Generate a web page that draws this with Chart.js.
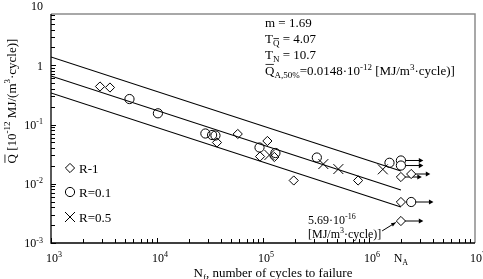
<!DOCTYPE html>
<html><head><meta charset="utf-8">
<script src="https://cdn.jsdelivr.net/npm/chart.js@4/dist/chart.umd.min.js"></script>
<style>html,body{margin:0;padding:0;background:#fff;}canvas{display:block;}</style>
</head><body>
<canvas id="c" width="483" height="279"></canvas>
<script>
// ---- axis ticks ----
const xTickValues = [1e3, 1e4, 1e5, 1e6, 1e7];
const xTickExponents = ['3', '4', '5', '6', '7'];
const yTickValues = [1e-3, 1e-2, 1e-1, 1, 10];
const yTickBases = ['10', '10', '10', '1', '10'];
const yTickExponents = ['-3', '-2', '-1', '', ''];
const naCycles = 2e6;           // N_A label position
const xMin = 1e3, xMax = 1e7, yMin = 1e-3, yMax = 7.33;

// ---- scatter band lines (50%, 10%, 90%) ----
const lineCycles = [1e3, 2e6];
const upperQ = [1.377, 0.0164];
const medianQ = [0.659, 0.00785];
const lowerQ = [0.340, 0.00406];

// ---- R-1 (diamonds) ----
const r1Cycles = [2900, 3600, 36800, 57800, 110000, 93800, 128000, 195000, 789000];
const r1Q = [0.438, 0.421, 0.0497, 0.0692, 0.0527, 0.0288, 0.0283, 0.01135, 0.01135];
const r1RunoutCycles = [2.0e6, 2.5e6, 2.0e6, 2.0e6];
const r1RunoutQ = [0.0130, 0.0146, 0.00492, 0.00235];
const r1RunoutArrowEnd = [2.95e6, 3.55e6, null, 3.05e6];

// ---- R=0.1 (circles) ----
const r01Cycles = [5500, 10200, 28600, 33100, 35600, 92700, 131000, 322000, 1.56e6];
const r01Q = [0.269, 0.1545, 0.0705, 0.0665, 0.0652, 0.0409, 0.0330, 0.0277, 0.0226];
const r01RunoutCycles = [2.0e6, 2.0e6, 2.5e6];
const r01RunoutQ = [0.0247, 0.0203, 0.00492];
const r01RunoutArrowEnd = [3.05e6, 3.05e6, 3.8e6];

// ---- R=0.5 (crosses) ----
const r05Cycles = [115000, 371000, 514000, 1.35e6];
const r05Q = [0.0306, 0.0215, 0.0177, 0.0175];

// ---- callout arrow to lowest run-out ----
const calloutCycles = [1.33e6, 1.79e6];
const calloutQ = [0.00160, 0.00222];

const pts = (xs, ys) => xs.map((x, i) => ({x, y: ys[i]}));
const FONT = '"Liberation Serif", "Times New Roman", serif';

const datasets = [];
// markers (on top)
datasets.push({data: pts(r1Cycles, r1Q), pointStyle: 'rectRot', pointRadius: 4.6, borderColor: '#000', backgroundColor: 'rgba(0,0,0,0)', borderWidth: 1, order: 0});
datasets.push({data: pts(r01Cycles, r01Q), pointStyle: 'circle', pointRadius: 4.6, borderColor: '#000', backgroundColor: 'rgba(0,0,0,0)', borderWidth: 1, order: 0});
datasets.push({data: pts(r05Cycles, r05Q), pointStyle: 'crossRot', pointRadius: 7, borderColor: '#000', backgroundColor: 'rgba(0,0,0,0)', borderWidth: 1, order: 0});
datasets.push({data: pts(r1RunoutCycles, r1RunoutQ), pointStyle: 'rectRot', pointRadius: 4.6, borderColor: '#000', backgroundColor: '#fff', borderWidth: 1, order: 0});
datasets.push({data: pts(r01RunoutCycles, r01RunoutQ), pointStyle: 'circle', pointRadius: 4.6, borderColor: '#000', backgroundColor: '#fff', borderWidth: 1, order: 0});
// run-out arrows
function addArrows(cyc, q, ends) {
  cyc.forEach((c, i) => {
    if (ends[i] == null) return;
    datasets.push({data: [{x: c, y: q[i]}, {x: ends[i], y: q[i]}], showLine: true, borderColor: '#000', borderWidth: 1,
      pointRadius: [0, 3], pointStyle: 'triangle', rotation: 90, pointBackgroundColor: '#000', pointBorderColor: '#000', pointBorderWidth: 0, order: 2});
  });
}
addArrows(r1RunoutCycles, r1RunoutQ, r1RunoutArrowEnd);
addArrows(r01RunoutCycles, r01RunoutQ, r01RunoutArrowEnd);
// band lines
[upperQ, medianQ, lowerQ].forEach(q => datasets.push({data: pts(lineCycles, q), showLine: true, pointRadius: 0, borderColor: '#000', borderWidth: 1.1, order: 3}));

function drawRich(ctx, parts, x, y, align, base) {
  const sm = Math.round(base * 0.68);
  let w = 0;
  const ms = parts.map(p => {
    const s = p.k ? sm : base;
    ctx.font = s + 'px ' + FONT;
    const mw = ctx.measureText(p.t).width;
    w += mw;
    return {p, s, mw};
  });
  let cx = align === 'center' ? x - w / 2 : align === 'right' ? x - w : x;
  ctx.textAlign = 'left';
  ctx.textBaseline = 'alphabetic';
  ms.forEach(({p, s, mw}) => {
    ctx.font = s + 'px ' + FONT;
    const dy = p.k === 'sup' ? -base * 0.4 : p.k === 'sub' ? base * 0.25 : 0;
    ctx.fillText(p.t, cx, y + dy);
    if (p.over) {
      const top = y + dy - s * 0.72 - 1.2;
      ctx.beginPath();
      ctx.moveTo(cx + 0.5, top);
      ctx.lineTo(cx + mw - 0.5, top);
      ctx.lineWidth = 0.8;
      ctx.stroke();
    }
    cx += mw;
  });
  return w;
}

const decor = {
  id: 'decor',
  afterDatasetsDraw(chart) {
    const {ctx, chartArea: a, scales: {x, y}} = chart;
    ctx.save();
    ctx.fillStyle = '#000';
    ctx.strokeStyle = '#000';
    // frame
    ctx.lineWidth = 1.5;
    ctx.strokeStyle = '#8c8c8c';
    ctx.beginPath();
    ctx.moveTo(a.left, a.top); ctx.lineTo(a.right, a.top); ctx.lineTo(a.right, a.bottom);
    ctx.stroke();
    ctx.strokeStyle = '#000';
    ctx.lineWidth = 1.3;
    ctx.beginPath();
    ctx.moveTo(a.left, a.top); ctx.lineTo(a.left, a.bottom); ctx.lineTo(a.right, a.bottom);
    ctx.stroke();
    // ticks
    ctx.lineWidth = 1;
    ctx.beginPath();
    for (let d = Math.log10(xMin); d < Math.log10(xMax); d++) {
      for (let k = 1; k <= 9; k++) {
        const px = Math.round(x.getPixelForValue(k * Math.pow(10, d))) + 0.5;
        ctx.moveTo(px, a.bottom); ctx.lineTo(px, a.bottom - (k === 1 ? 5 : 4));
      }
    }
    for (let d = Math.log10(yMin); d < 1; d++) {
      for (let k = 1; k <= 9; k++) {
        const v = k * Math.pow(10, d);
        if (v > yMax) continue;
        const py = Math.round(y.getPixelForValue(v)) + 0.5;
        ctx.moveTo(a.left, py); ctx.lineTo(a.left + (k === 1 ? 5 : 4), py);
      }
    }
    ctx.stroke();
    // x tick labels
    xTickValues.forEach((v, i) => {
      const px = x.getPixelForValue(v);
      drawRich(ctx, [{t: '10'}, {t: xTickExponents[i], k: 'sup'}], Math.min(px + 3, 478), 262, 'center', 12);
    });
    drawRich(ctx, [{t: 'N'}, {t: 'A', k: 'sub'}], x.getPixelForValue(naCycles), 262, 'center', 12);
    // y tick labels
    yTickValues.forEach((v, i) => {
      const py = y.getPixelForValue(v);
      const parts = [{t: yTickBases[i]}];
      if (yTickExponents[i]) parts.push({t: yTickExponents[i], k: 'sup'});
      drawRich(ctx, parts, 43, py + 4.3, 'right', 12);
    });
    // axis titles
    drawRich(ctx, [{t: 'N'}, {t: 'f', k: 'sub'}, {t: ', number of cycles to failure'}], 273, 277, 'center', 13);
    ctx.save();
    ctx.translate(11, 101);
    ctx.rotate(-Math.PI / 2);
    drawRich(ctx, [{t: 'Q', over: true}, {t: ' [10'}, {t: '-12', k: 'sup'}, {t: ' MJ/(m'}, {t: '3', k: 'sup'}, {t: '·cycle)]'}], 0, 4.5, 'center', 13);
    ctx.restore();
    // annotation block
    const ax = 265;
    drawRich(ctx, [{t: 'm = 1.69'}], ax, 27, 'left', 13);
    drawRich(ctx, [{t: 'T'}, {t: 'Q', k: 'sub', over: true}, {t: ' = 4.07'}], ax, 43, 'left', 13);
    drawRich(ctx, [{t: 'T'}, {t: 'N', k: 'sub'}, {t: ' = 10.7'}], ax, 59, 'left', 13);
    drawRich(ctx, [{t: 'Q', over: true}, {t: 'A,50%', k: 'sub'}, {t: '=0.0148·10'}, {t: '-12', k: 'sup'}, {t: ' [MJ/m'}, {t: '3', k: 'sup'}, {t: '·cycle)]'}], ax, 75, 'left', 13);
    // legend
    const lx = 70, ly = [168, 192, 217];
    ctx.lineWidth = 1;
    ctx.beginPath();
    ctx.moveTo(lx, ly[0] - 4.6); ctx.lineTo(lx + 4.6, ly[0]); ctx.lineTo(lx, ly[0] + 4.6); ctx.lineTo(lx - 4.6, ly[0]); ctx.closePath();
    ctx.stroke();
    ctx.beginPath(); ctx.arc(lx, ly[1], 4.6, 0, Math.PI * 2); ctx.stroke();
    ctx.beginPath();
    ctx.moveTo(lx - 5, ly[2] - 5); ctx.lineTo(lx + 5, ly[2] + 5);
    ctx.moveTo(lx + 5, ly[2] - 5); ctx.lineTo(lx - 5, ly[2] + 5);
    ctx.stroke();
    ['R-1', 'R=0.1', 'R=0.5'].forEach((t, i) => drawRich(ctx, [{t}], lx + 9, ly[i] + 4.5, 'left', 13));
    // callout
    const c0x = x.getPixelForValue(calloutCycles[0]), c0y = y.getPixelForValue(calloutQ[0]);
    const c1x = x.getPixelForValue(calloutCycles[1]), c1y = y.getPixelForValue(calloutQ[1]);
    ctx.beginPath(); ctx.moveTo(c0x, c0y); ctx.lineTo(c1x, c1y); ctx.stroke();
    const ang = Math.atan2(c1y - c0y, c1x - c0x);
    ctx.beginPath();
    ctx.moveTo(c1x, c1y);
    ctx.lineTo(c1x - 5 * Math.cos(ang - 0.4), c1y - 5 * Math.sin(ang - 0.4));
    ctx.lineTo(c1x - 5 * Math.cos(ang + 0.4), c1y - 5 * Math.sin(ang + 0.4));
    ctx.closePath(); ctx.fill();
    drawRich(ctx, [{t: '5.69·10'}, {t: '-16', k: 'sup'}], 308, 224, 'left', 12);
    drawRich(ctx, [{t: '[MJ/m'}, {t: '3', k: 'sup'}, {t: '·cycle)]'}], 308, 238, 'left', 12);
    ctx.restore();
  }
};

new Chart(document.getElementById('c'), {
  type: 'scatter',
  data: {datasets},
  options: {
    responsive: false,
    animation: false,
    devicePixelRatio: 1,
    events: [],
    layout: {padding: {top: 14, right: 3, left: 0, bottom: 0}},
    plugins: {legend: {display: false}, tooltip: {enabled: false}},
    scales: {
      x: {type: 'logarithmic', min: xMin, max: xMax, ticks: {display: false}, grid: {display: false}, border: {display: false},
          afterFit: s => { s.height = 36; }},
      y: {type: 'logarithmic', min: yMin, max: yMax, ticks: {display: false}, grid: {display: false}, border: {display: false},
          afterFit: s => { s.width = 51; }}
    }
  },
  plugins: [decor]
});
</script>
</body></html>
